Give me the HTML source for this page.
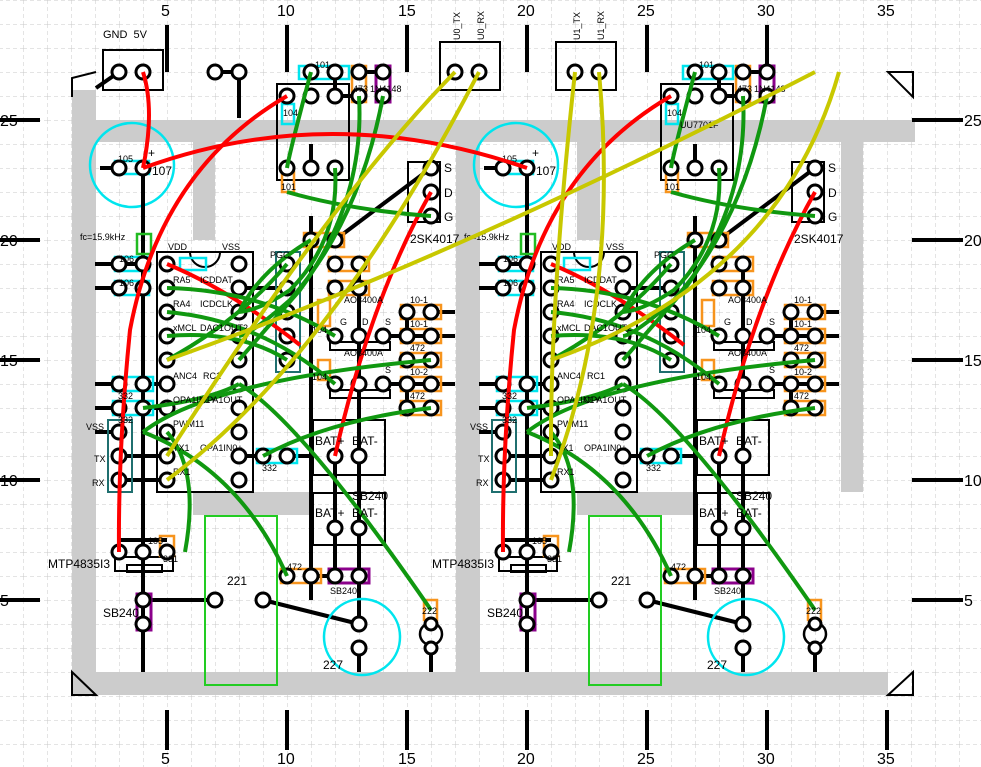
<!DOCTYPE html>
<html><head><meta charset="utf-8"><style>
html,body{margin:0;padding:0;background:#fff}
svg{display:block}
text{font-family:"Liberation Sans",sans-serif;fill:#000}
.p{fill:#fff;stroke:#000;stroke-width:3}
.k{stroke:#000;stroke-width:4;fill:none}
.r{stroke:#f00;stroke-width:4;fill:none}
.g{stroke:#109810;stroke-width:4;fill:none}
.y{stroke:#c8c800;stroke-width:4;fill:none}
.bx{fill:none;stroke:#000;stroke-width:2}
.cy{fill:none;stroke:#00e5ee;stroke-width:2.5}
.or{fill:none;stroke:#f7941d;stroke-width:2.5}
.pu{fill:none;stroke:#8b008b;stroke-width:3}
.tl{fill:none;stroke:#1f6f6f;stroke-width:2}
</style></head><body>
<svg width="981" height="767" viewBox="0 0 981 767" xmlns="http://www.w3.org/2000/svg">
<defs>
<pattern id="grid" width="24" height="24" patternUnits="userSpaceOnUse" x="23" y="0">
<path d="M0 0V24M0 0H24" stroke="#c8c8c8" stroke-width="1" stroke-dasharray="4 3" fill="none"/>
</pattern>
<g id="mod">
 <path class="k" d="M335 72V96H359M311 144V168M359 72H383"/>
 <path class="k" d="M95 264H143M95 288H119M143 168V552M95 384H119M143 384H167M95 408H119M143 408H167M95 432H119M119 456H167M119 480H167M239 288H287M239 456H263M287 456H311"/>
 <path class="k" d="M311 216V600M359 264V528M335 240L431 168M383 336H455M383 384H455M407 312V336M407 384V408M431 312H455M431 336H455"/>
 <path class="k" d="M143 552V672M143 600H215M263 600L359 624M335 456V576H311M359 528V576M359 576V624M359 648V672M431 648V672M119 540H167"/>
 <rect class="bx" x="277" y="84" width="72" height="96"/>
 <rect class="bx" x="408" y="162" width="32" height="60"/>
 <rect class="bx" x="157" y="252" width="96" height="240"/>
 <path class="bx" d="M190 252A15 15 0 0 0 220 252"/>
 <rect class="tl" x="276" y="252" width="24" height="120"/>
 <rect class="tl" x="108" y="420" width="24" height="72"/>
 <rect class="bx" x="313" y="420" width="72" height="55"/>
 <rect class="bx" x="313" y="493" width="72" height="52"/>
 <rect fill="none" stroke="#22cc22" stroke-width="2" x="205" y="516" width="72" height="169"/>
 <rect class="bx" x="115" y="557" width="58" height="14"/>
 <rect class="bx" x="127" y="565" width="35" height="7"/>
 <rect class="bx" x="330" y="342" width="60" height="8"/>
 <rect class="bx" x="330" y="390" width="60" height="8"/>
 <circle class="cy" cx="362" cy="637" r="38"/>
 <circle fill="none" stroke="#000" stroke-width="2.5" cx="431" cy="634" r="11"/>
 <rect class="cy" x="299" y="66" width="50" height="13"/>
 <rect class="or" x="352" y="66" width="14" height="36"/>
 <rect class="pu" x="376" y="66" width="14" height="36"/>
 <rect class="cy" x="282" y="104" width="12" height="20"/>
 <rect class="or" x="282" y="172" width="12" height="20"/>
 <rect class="cy" x="115" y="161" width="34" height="13"/>
 <rect fill="none" stroke="#22bb22" stroke-width="2.5" x="137" y="234" width="14" height="20"/>
 <rect class="cy" x="115" y="257" width="34" height="14"/>
 <rect class="cy" x="115" y="281" width="34" height="14"/>
 <rect class="cy" x="180" y="258" width="26" height="12"/>
 <rect class="cy" x="113" y="377" width="40" height="14"/>
 <rect class="cy" x="113" y="401" width="40" height="14"/>
 <rect class="cy" x="257" y="449" width="40" height="14"/>
 <rect class="or" x="304" y="233" width="40" height="14"/>
 <rect class="or" x="329" y="257" width="40" height="14"/>
 <rect class="or" x="329" y="281" width="40" height="14"/>
 <rect class="or" x="318" y="300" width="12" height="26"/>
 <rect class="or" x="318" y="360" width="12" height="20"/>
 <rect class="or" x="401" y="305" width="40" height="14"/>
 <rect class="or" x="401" y="329" width="40" height="14"/>
 <rect class="or" x="401" y="353" width="40" height="14"/>
 <rect class="or" x="401" y="377" width="40" height="14"/>
 <rect class="or" x="401" y="401" width="40" height="14"/>
 <rect class="or" x="281" y="569" width="40" height="14"/>
 <rect class="pu" x="329" y="569" width="40" height="14"/>
 <rect class="pu" x="137" y="594" width="14" height="36"/>
 <rect class="or" x="424" y="600" width="13" height="20"/>
 <rect class="or" x="160" y="536" width="14" height="20"/>
 <g class="p">
 <circle cx="311" cy="72" r="7"/><circle cx="335" cy="72" r="7"/>
 <circle cx="359" cy="72" r="7"/><circle cx="359" cy="96" r="7"/>
 <circle cx="383" cy="72" r="7"/><circle cx="383" cy="96" r="7"/>
 <circle cx="287" cy="96" r="7"/><circle cx="311" cy="96" r="7"/><circle cx="335" cy="96" r="7"/>
 <circle cx="287" cy="168" r="7"/><circle cx="311" cy="168" r="7"/><circle cx="335" cy="168" r="7"/>
 <circle cx="431" cy="168" r="7"/><circle cx="431" cy="192" r="7"/><circle cx="431" cy="216" r="7"/>
 <circle cx="119" cy="168" r="7"/><circle cx="143" cy="168" r="7"/>
 <circle cx="119" cy="264" r="7"/><circle cx="143" cy="264" r="7"/>
 <circle cx="119" cy="288" r="7"/><circle cx="143" cy="288" r="7"/>
 <circle cx="167" cy="264" r="7"/><circle cx="167" cy="288" r="7"/><circle cx="167" cy="312" r="7"/><circle cx="167" cy="336" r="7"/><circle cx="167" cy="360" r="7"/><circle cx="167" cy="384" r="7"/><circle cx="167" cy="408" r="7"/><circle cx="167" cy="432" r="7"/><circle cx="167" cy="456" r="7"/><circle cx="167" cy="480" r="7"/>
 <circle cx="239" cy="264" r="7"/><circle cx="239" cy="288" r="7"/><circle cx="239" cy="312" r="7"/><circle cx="239" cy="336" r="7"/><circle cx="239" cy="360" r="7"/><circle cx="239" cy="384" r="7"/><circle cx="239" cy="408" r="7"/><circle cx="239" cy="432" r="7"/><circle cx="239" cy="456" r="7"/><circle cx="239" cy="480" r="7"/>
 <circle cx="287" cy="264" r="7"/><circle cx="287" cy="288" r="7"/><circle cx="287" cy="312" r="7"/><circle cx="287" cy="336" r="7"/><circle cx="287" cy="360" r="7"/>
 <circle cx="119" cy="384" r="7"/><circle cx="143" cy="384" r="7"/>
 <circle cx="119" cy="408" r="7"/><circle cx="143" cy="408" r="7"/>
 <circle cx="119" cy="432" r="7"/><circle cx="119" cy="456" r="7"/><circle cx="119" cy="480" r="7"/>
 <circle cx="263" cy="456" r="7"/><circle cx="287" cy="456" r="7"/>
 <circle cx="311" cy="240" r="7"/><circle cx="335" cy="240" r="7"/>
 <circle cx="335" cy="264" r="7"/><circle cx="359" cy="264" r="7"/>
 <circle cx="335" cy="288" r="7"/><circle cx="359" cy="288" r="7"/>
 <circle cx="335" cy="336" r="7"/><circle cx="359" cy="336" r="7"/><circle cx="383" cy="336" r="7"/>
 <circle cx="335" cy="384" r="7"/><circle cx="359" cy="384" r="7"/><circle cx="383" cy="384" r="7"/>
 <circle cx="407" cy="312" r="7"/><circle cx="431" cy="312" r="7"/>
 <circle cx="407" cy="336" r="7"/><circle cx="431" cy="336" r="7"/>
 <circle cx="407" cy="360" r="7"/><circle cx="431" cy="360" r="7"/>
 <circle cx="407" cy="384" r="7"/><circle cx="431" cy="384" r="7"/>
 <circle cx="407" cy="408" r="7"/><circle cx="431" cy="408" r="7"/>
 <circle cx="335" cy="456" r="7"/><circle cx="359" cy="456" r="7"/>
 <circle cx="335" cy="528" r="7"/><circle cx="359" cy="528" r="7"/>
 <circle cx="119" cy="552" r="7"/><circle cx="143" cy="552" r="7"/><circle cx="167" cy="552" r="7"/>
 <circle cx="143" cy="600" r="7"/><circle cx="143" cy="624" r="7"/>
 <circle cx="215" cy="600" r="7"/><circle cx="263" cy="600" r="7"/>
 <circle cx="287" cy="576" r="7"/><circle cx="311" cy="576" r="7"/><circle cx="335" cy="576" r="7"/><circle cx="359" cy="576" r="7"/>
 <circle cx="359" cy="624" r="7"/><circle cx="359" cy="648" r="7"/>
 <circle cx="431" cy="624" r="6"/><circle cx="431" cy="648" r="6"/>
 </g>
 <path class="r" d="M287 96Q160 170 130 330Q118 450 119 552"/>
 <path class="r" d="M167 264Q230 290 300 345"/>
 <path class="r" d="M431 192Q370 300 335 456"/>
 <path class="g" d="M311 72Q290 150 287 168"/>
 <path class="g" d="M359 96Q365 200 300 290Q265 330 239 360"/>
 <path class="g" d="M383 96Q360 220 290 300Q250 335 239 336"/>
 <path class="g" d="M335 168Q340 240 290 290Q260 310 239 312"/>
 <path class="g" d="M287 192Q350 210 431 216"/>
 <path class="g" d="M311 240Q260 270 239 312"/>
 <path class="g" d="M167 288Q260 290 335 336"/>
 <path class="g" d="M167 312Q260 320 335 384"/>
 <path class="g" d="M167 336Q240 330 287 360"/>
 <path class="g" d="M143 432Q210 380 431 360"/>
 <path class="g" d="M143 408Q210 400 239 384"/>
 <path class="g" d="M263 456Q330 420 431 408"/>
 <path class="g" d="M167 432Q200 470 185 552"/>
 <path class="g" d="M239 384Q300 420 431 610"/>
 <path class="g" d="M143 432Q240 470 287 576"/>
 <path class="g" d="M167 360Q240 320 287 264"/>
 <g font-size="9">
 <text x="168" y="250">VDD</text><text x="222" y="250">VSS</text>
 <text x="173" y="283">RA5</text><text x="173" y="307">RA4</text><text x="173" y="331">xMCL</text>
 <text x="173" y="379">ANC4</text><text x="173" y="403">OPA1IN1+</text><text x="173" y="427">PWM11</text>
 <text x="173" y="451">TX1</text><text x="173" y="475">RX1</text>
 <text x="200" y="283">ICDDAT</text><text x="200" y="307">ICDCLK</text><text x="200" y="331">DAC1OUT2</text>
 <text x="203" y="379">RC1</text><text x="200" y="403">OPA1OUT</text><text x="200" y="451">OPA1IN0+</text>
 <text x="270" y="258">PGC</text>
 <text x="86" y="430">VSS</text><text x="94" y="462">TX</text><text x="92" y="486">RX</text>
 <text x="80" y="240">fc=15.9kHz</text>
 <text x="118" y="162">105</text><text x="119" y="262">106</text><text x="119" y="286">106</text>
 <text x="118" y="399">332</text><text x="118" y="423">332</text><text x="262" y="471">332</text>
 <text x="315" y="68">101</text><text x="283" y="116">104</text><text x="281" y="190">101</text>
 <text x="370" y="92">1N4148</text><text x="353" y="92">473</text>
 <text x="344" y="303">AO3400A</text><text x="344" y="356">AO3400A</text>
 <text x="340" y="325">G</text><text x="362" y="325">D</text><text x="385" y="325">S</text>
 <text x="385" y="373">S</text><text x="410" y="303">10-1</text><text x="410" y="327">10-1</text>
 <text x="410" y="351">472</text><text x="410" y="375">10-2</text><text x="410" y="399">472</text>
 <text x="312" y="333">104</text><text x="312" y="380">104</text>
 <text x="287" y="570">472</text><text x="330" y="594">SB240</text>
 <text x="148" y="544">105</text><text x="163" y="562">331</text>
 <text x="422" y="614">222</text>
 </g>
 <g font-size="12">
 <text x="152" y="175">107</text><text x="148" y="157">+</text>
 <text x="444" y="172">S</text><text x="444" y="197">D</text><text x="444" y="221">G</text>
 <text x="410" y="243">2SK4017</text>
 <text x="315" y="445">BAT+</text><text x="352" y="445">BAT-</text>
 <text x="315" y="517">BAT+</text><text x="352" y="517">BAT-</text>
 <text x="352" y="500">SB240</text>
 <text x="227" y="585">221</text><text x="323" y="669">227</text>
 <text x="48" y="568">MTP4835I3</text><text x="103" y="617">SB240</text>
 </g>
</g>
</defs>
<rect width="981" height="767" fill="url(#grid)"/>
<g fill="#cccccc">
<rect x="72" y="90" width="24" height="605"/>
<rect x="96" y="120" width="819" height="22"/>
<rect x="96" y="672" width="792" height="23"/>
<rect x="193" y="142" width="22" height="98"/>
<rect x="456" y="142" width="24" height="530"/>
<rect x="577" y="142" width="23" height="98"/>
<rect x="841" y="142" width="22" height="350"/>
<rect x="193" y="492" width="120" height="23"/>
<rect x="577" y="492" width="120" height="23"/>
</g>
<g fill="none" stroke="#000" stroke-width="2">
<path d="M72 97V78L96 72M72 672L96 695H72Z"/>
<path d="M888 72H913V97ZM913 672V695H888Z"/>
</g>
<g class="k" stroke-width="2.5">
<path d="M167 25V72M287 25V72M407 25V72M527 25V72M647 25V72M767 25V72"/>
<path d="M167 710V750M287 710V750M407 710V750M527 710V750M647 710V750M767 710V750M887 710V750"/>
<path d="M0 120H40M0 240H40M0 360H40M0 480H40M0 600H40"/>
<path d="M912 120H963M912 240H963M912 360H963M912 480H963M912 600H963"/>
</g>
<g font-size="16">
<text x="161" y="16">5</text><text x="277" y="16">10</text><text x="398" y="16">15</text><text x="517" y="16">20</text><text x="637" y="16">25</text><text x="757" y="16">30</text><text x="877" y="16">35</text>
<text x="161" y="764">5</text><text x="277" y="764">10</text><text x="398" y="764">15</text><text x="517" y="764">20</text><text x="637" y="764">25</text><text x="757" y="764">30</text><text x="877" y="764">35</text>
<text x="0" y="126">25</text><text x="0" y="246">20</text><text x="0" y="366">15</text><text x="0" y="486">10</text><text x="0" y="606">5</text>
<text x="964" y="126">25</text><text x="964" y="246">20</text><text x="964" y="366">15</text><text x="964" y="486">10</text><text x="964" y="606">5</text>
</g>
<circle class="cy" cx="132" cy="165" r="42"/>
<circle class="cy" cx="516" cy="165" r="42"/>
<path class="k" d="M100 168H119M484 168H503"/>
<use href="#mod"/>
<use href="#mod" x="384"/>
<rect class="bx" x="103" y="50" width="60" height="40"/>
<text x="103" y="38" font-size="11">GND&#160;&#160;5V</text>
<path class="k" d="M96 88L119 72M215 72H239V118"/>
<rect class="bx" x="440" y="42" width="60" height="48"/>
<rect class="bx" x="556" y="42" width="60" height="48"/>
<g font-size="9"><text transform="translate(460 40) rotate(-90)">U0_TX</text><text transform="translate(484 40) rotate(-90)">U0_RX</text>
<text transform="translate(580 40) rotate(-90)">U1_TX</text><text transform="translate(604 40) rotate(-90)">U1_RX</text>
<text x="680" y="128">UU7701F</text></g>
<g class="p">
<circle cx="119" cy="72" r="7"/><circle cx="143" cy="72" r="7"/>
<circle cx="215" cy="72" r="7"/><circle cx="239" cy="72" r="7"/>
<circle cx="455" cy="72" r="7"/><circle cx="479" cy="72" r="7"/>
<circle cx="575" cy="72" r="7"/><circle cx="599" cy="72" r="7"/>
</g>
<path class="r" d="M143 72Q155 110 143 168"/>
<path class="r" d="M143 168Q330 100 527 168"/>
<path class="y" d="M455 72Q330 200 167 456"/>
<path class="y" d="M479 72Q330 360 167 480"/>
<path class="y" d="M167 360Q450 260 815 72"/>
<path class="y" d="M575 72Q550 300 551 456"/>
<path class="y" d="M599 72Q620 300 551 480"/>
<path class="y" d="M839 72Q780 280 551 360"/>
</svg>
</body></html>
